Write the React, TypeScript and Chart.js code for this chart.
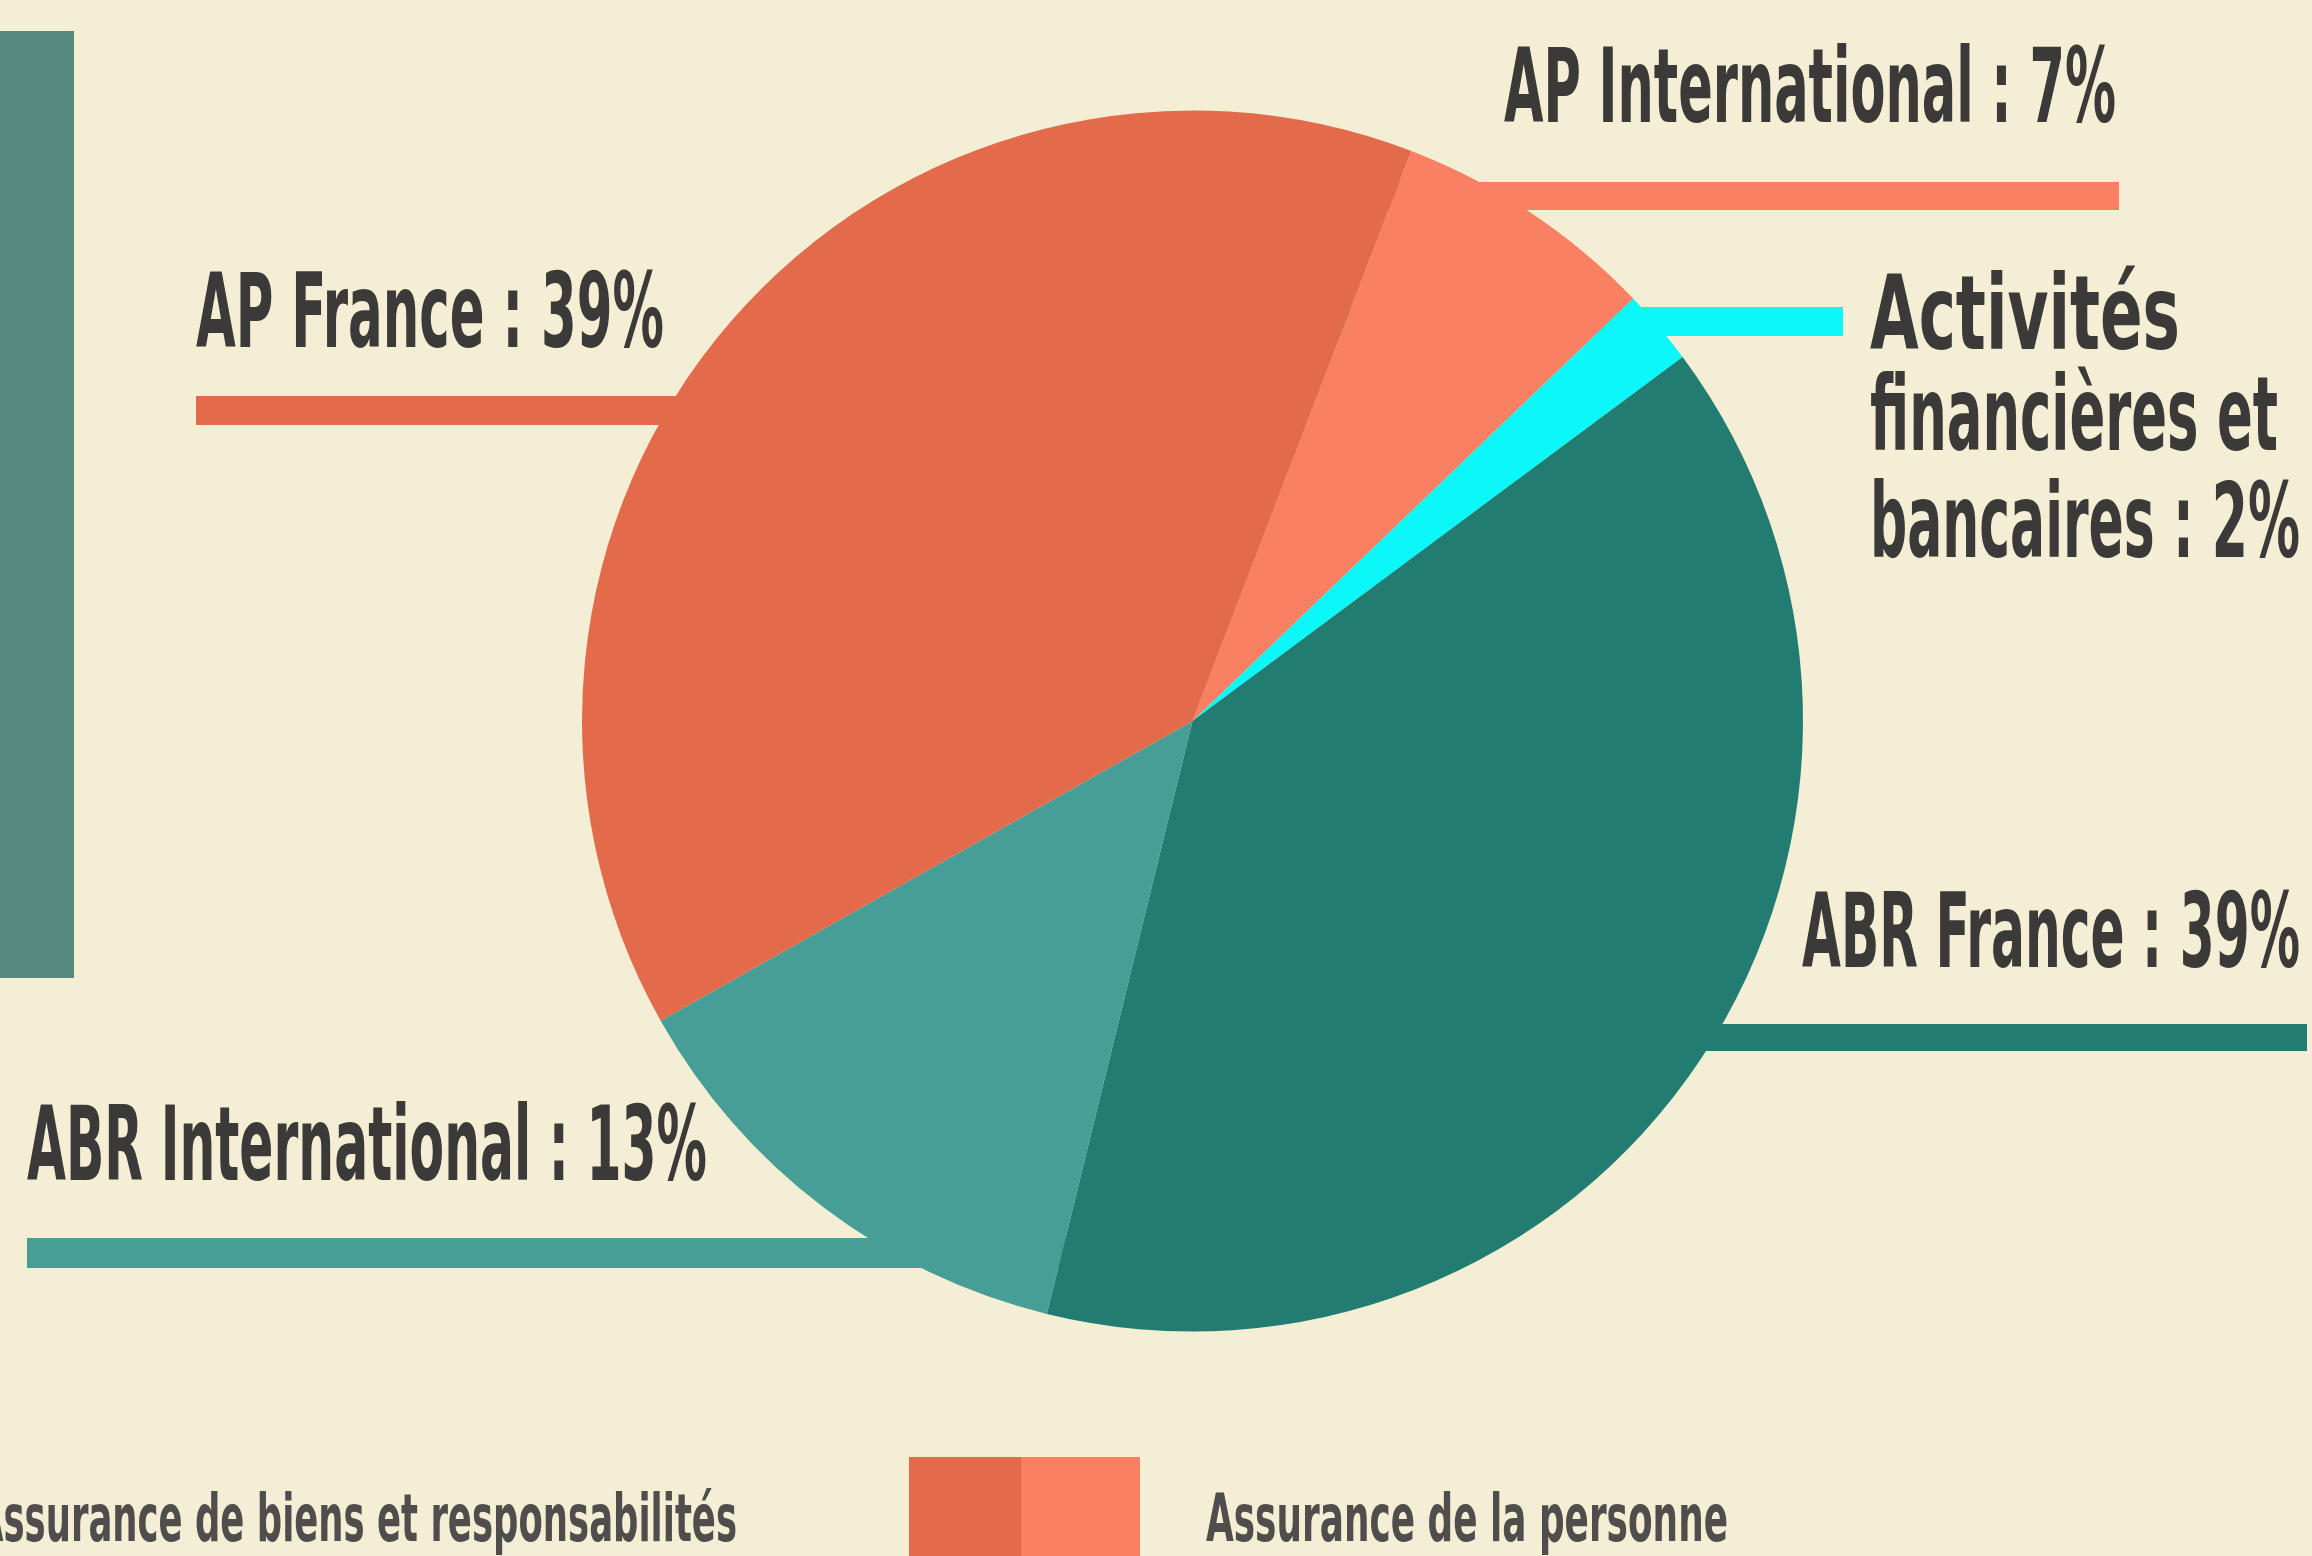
import React, { useEffect, useRef } from "react";
import { Chart, registerables } from "chart.js";

Chart.register(...registerables);

// ---- data ----
const categories = [
  "AP International",
  "Activités financières et bancaires",
  "ABR France",
  "ABR International",
  "AP France",
];
const shares = [7, 2, 39, 13, 39];
const sliceColors = ["#F98062", "#0CF7F7", "#227C72", "#469E96", "#E36B4C"];
const labelTexts = [
  ["AP International : 7%"],
  ["Activités", "financières et", "bancaires : 2%"],
  ["ABR France : 39%"],
  ["ABR International : 13%"],
  ["AP France : 39%"],
];
const legendTexts = ["Assurance de biens et responsabilités", "Assurance de la personne"];

const W = 2312;
const H = 1556;
const BG = "#F4EED4";
const TEXT = "#3C3A39";
const FONT = "'DejaVu Sans Condensed', 'DejaVu Sans', sans-serif";

// annotation layout (label positions, leader lines)
const labelLayout = [
  { x: 1504, w: 612, baselines: [122], line: { y: 182, t: 28, x1: null, x2: 2119 } },
  { x: 1870, w: [310, 408, 430], baselines: [349, 450, 557], line: { y: 307, t: 29, x1: null, x2: 1843 } },
  { x: 1802, w: 498, baselines: [967], line: { y: 1024, t: 27, x1: null, x2: 2307 } },
  { x: 27, w: 680, baselines: [1180], line: { y: 1238, t: 30, x1: 27, x2: null } },
  { x: 196, w: 468, baselines: [347], line: { y: 396, t: 29, x1: 196, x2: null } },
];

function drawScaledText(ctx: CanvasRenderingContext2D, text: string, x: number, y: number, size: number, w: number, color: string) {
  ctx.save();
  ctx.font = `bold ${size}px ${FONT}`;
  ctx.fillStyle = color;
  ctx.textBaseline = "alphabetic";
  ctx.textAlign = "left";
  const m = ctx.measureText(text).width;
  const sx = w / m;
  ctx.translate(x, y);
  ctx.scale(sx, 1);
  ctx.fillText(text, 0, 0);
  ctx.restore();
}

const decorPlugin = {
  id: "decor",
  beforeDraw(chart: any) {
    const ctx = chart.ctx as CanvasRenderingContext2D;
    ctx.save();
    ctx.fillStyle = BG;
    ctx.fillRect(0, 0, chart.width, chart.height);
    // left vertical band
    ctx.fillStyle = "#578A7E";
    ctx.fillRect(0, 31, 74, 947);
    ctx.restore();
  },
  beforeDatasetsDraw(chart: any) {
    const ctx = chart.ctx as CanvasRenderingContext2D;
    const arc = chart.getDatasetMeta(0).data[0];
    const cx = arc.x;
    ctx.save();
    labelLayout.forEach((l, i) => {
      const x1 = l.line.x1 ?? cx;
      const x2 = l.line.x2 ?? cx;
      ctx.fillStyle = sliceColors[i];
      ctx.fillRect(x1, l.line.y, x2 - x1, l.line.t);
    });
    ctx.restore();
  },
  afterDatasetsDraw(chart: any) {
    const ctx = chart.ctx as CanvasRenderingContext2D;
    labelLayout.forEach((l, i) => {
      labelTexts[i].forEach((t, j) => {
        const w = Array.isArray(l.w) ? l.w[j] : l.w;
        drawScaledText(ctx, t, l.x, l.baselines[j], 104, w, TEXT);
      });
    });
    // legend
    ctx.save();
    ctx.fillStyle = sliceColors[4];
    ctx.fillRect(909, 1457, 112, 110);
    ctx.fillStyle = sliceColors[0];
    ctx.fillRect(1021, 1457, 119, 110);
    ctx.restore();
    drawScaledText(ctx, legendTexts[0], -24, 1541, 66, 761, "#4F4E4C");
    drawScaledText(ctx, legendTexts[1], 1206, 1541, 66, 522, "#4F4E4C");
  },
};

export default function App() {
  const ref = useRef<HTMLCanvasElement | null>(null);
  useEffect(() => {
    document.body.style.margin = "0";
    document.body.style.background = BG;
    const chart = new Chart(ref.current as HTMLCanvasElement, {
      type: "pie",
      data: {
        labels: categories,
        datasets: [
          {
            data: shares,
            backgroundColor: sliceColors,
            borderWidth: 0,
          },
        ],
      },
      options: {
        animation: false,
        responsive: false,
        devicePixelRatio: 1,
        rotation: 21,
        layout: { padding: { top: 110, bottom: 224, left: 582, right: 509 } },
        plugins: {
          legend: { display: false },
          tooltip: { enabled: false },
          title: { display: false },
        },
      },
      plugins: [decorPlugin],
    });
    return () => chart.destroy();
  }, []);
  return (
    <div style={{ position: "fixed", left: 0, top: 0, width: W, height: H, background: BG }}>
      <canvas ref={ref} width={W} height={H} style={{ width: W, height: H, display: "block" }} />
    </div>
  );
}
